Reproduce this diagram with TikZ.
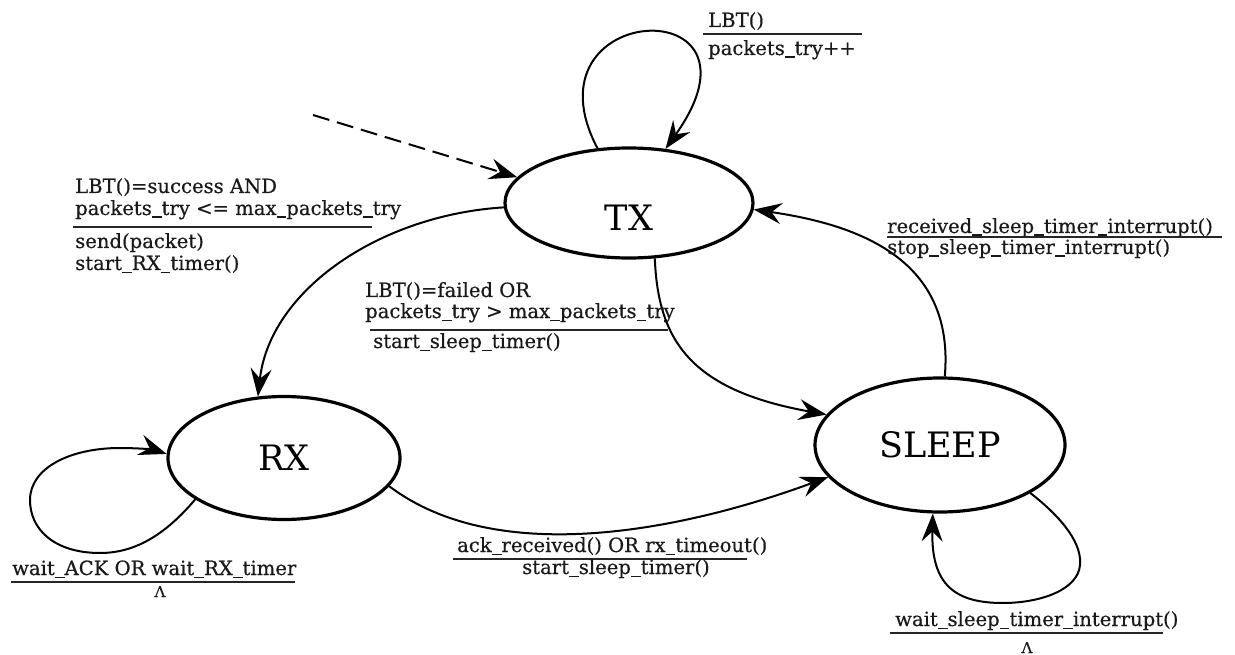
\documentclass[tikz,border=0pt]{standalone}
\usepackage{fontspec}
\setmainfont{DejaVu Serif}
\newfontfamily\lblfont{DejaVu Serif}[FakeBold=0.5]
\usetikzlibrary{arrows.meta,shapes.geometric}
% visible underscore drawn as a rule
\newcommand\usc{\rule[-3pt]{0.5em}{1.5pt}}

\begin{document}
\begin{tikzpicture}[x=1pt,y=-1pt,
  state/.style={ellipse, draw, line width=3.2pt, inner sep=0pt,
                font=\fontsize{35}{40}\selectfont},
  trans/.style={line width=2pt, -{Stealth[length=28pt,width=21pt,inset=10pt]}},
  lbl/.style={anchor=base west, inner sep=0pt,
              font=\lblfont\fontsize{19.6}{22}\selectfont, text=black!90},
  lam/.style={anchor=base, inner sep=0pt,
              font=\lblfont\fontsize{15}{18}\selectfont, text=black!90},
  bar/.style={line width=1.8pt, black!85}]

\useasboundingbox (0,0) rectangle (1235,655);

% states
\node[state, minimum width=248pt, minimum height=110pt, text height=55pt] (tx) at (629,203) {TX};
\node[state, minimum width=232pt, minimum height=123pt] (rx) at (284,458) {RX};
\node[state, minimum width=250pt, minimum height=134pt] (sleep) at (940,445) {SLEEP};

% initial transition
\coordinate (init) at (313,115);
\draw[trans, dash pattern=on 17pt off 8pt] (init) -- (tx.167);

% transitions
\draw[trans] (tx.120) .. controls (520,0) and (780,-12) .. (tx.56);
\draw[trans] (tx.182) .. controls (380,215) and (270,290) .. (rx.113);
\draw[trans] (tx.295) .. controls (658,340) and (690,390) .. (sleep.165);
\draw[trans] (sleep.86) .. controls (955,260) and (860,225) .. (tx.357);
\draw[trans] (rx.345) .. controls (500,570) and (690,528) .. (sleep.196);
\draw[trans] (rx.205) .. controls (165,535) and (135,553) .. (100,553)
  .. controls (55,553) and (30,530) .. (30,500)
  .. controls (30,468) and (70,448) .. (120,448)
  .. controls (140,448) and (155,450) .. (rx.178);
\draw[trans] (sleep.332) .. controls (1065,520) and (1082,545) .. (1080,565)
  .. controls (1078,590) and (1040,603) .. (1003,603)
  .. controls (955,603) and (931,585) .. (sleep.264);

% TX self loop label
\node[lbl] (l1a) at (708,27) {LBT()};
\draw[bar] (703,34) -- (862,34);
\node[lbl] (l1b) at (708,55) {packets\usc try++};

% TX -> RX label
\node[lbl] (l2a) at (75,193) {LBT()=success AND};
\node[lbl] (l2b) at (75,215) {packets\usc try <= max\usc packets\usc try};
\draw[bar] (73,227) -- (372,227);
\node[lbl] (l2c) at (75,248) {send(packet)};
\node[lbl] (l2d) at (75,270) {start\usc RX\usc timer()};

% TX -> SLEEP label
\node[lbl] (l3a) at (365,297) {LBT()=failed OR};
\node[lbl] (l3b) at (365,318) {packets\usc try > max\usc packets\usc try};
\draw[bar] (370,330) -- (668,330);
\node[lbl] (l3c) at (373,348) {start\usc sleep\usc timer()};

% SLEEP -> TX label
\node[lbl] (l4a) at (887,233) {received\usc sleep\usc timer\usc interrupt()};
\draw[bar] (887,237) -- (1222,237);
\node[lbl] (l4b) at (887,254) {stop\usc sleep\usc timer\usc interrupt()};

% RX self loop label
\node[lbl] (l5a) at (12,575) {wait\usc ACK OR wait\usc RX\usc timer};
\draw[bar] (11,582) -- (295,582);
\node[lam] (l5b) at (160,597) {Λ};

% RX -> SLEEP label
\node[lbl] (l6a) at (457,552) {ack\usc received() OR rx\usc timeout()};
\draw[bar] (453,559) -- (747,559);
\node[lbl] (l6b) at (522,574) {start\usc sleep\usc timer()};

% SLEEP self loop label
\node[lbl] (l7a) at (895,626) {wait\usc sleep\usc timer\usc interrupt()};
\draw[bar] (890,633) -- (1163,633);
\node[lam] (l7b) at (1027,653) {Λ};
\end{tikzpicture}
\end{document}
